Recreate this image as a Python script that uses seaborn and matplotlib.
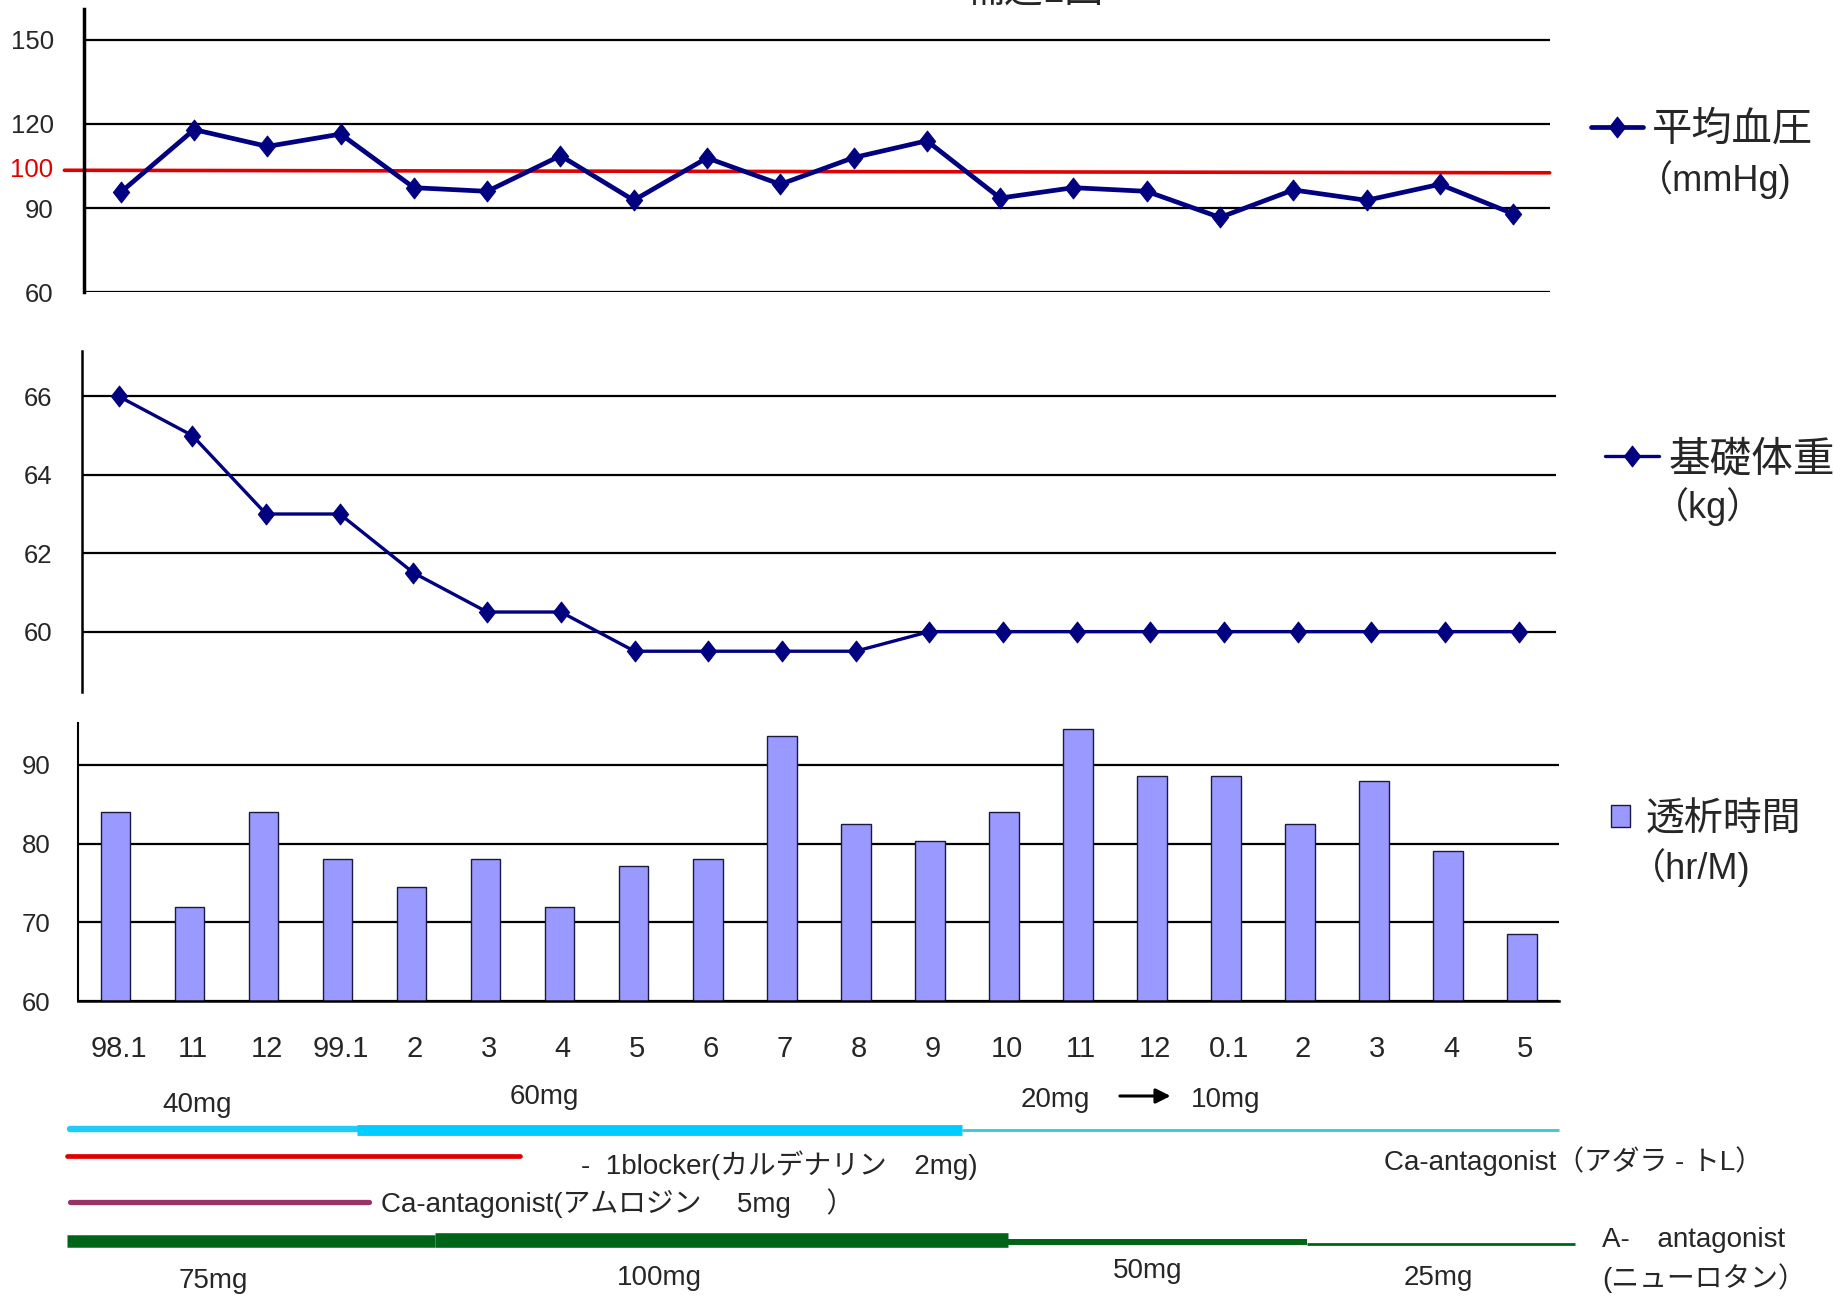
import numpy as np
import pandas as pd
import matplotlib
matplotlib.use("Agg")
import matplotlib.pyplot as plt
from matplotlib.path import Path
from matplotlib.transforms import blended_transform_factory
import seaborn as sns

# --- data ---
months = ["98.1", "11", "12", "99.1", "2", "3", "4", "5", "6", "7",
          "8", "9", "10", "11", "12", "0.1", "2", "3", "4", "5"]
map_mmhg = [95.7, 118, 112, 116.4, 97.3, 96, 108.7, 92.8, 107.9, 98.5,
            108, 114, 93.6, 97.3, 96, 86.7, 96.5, 92.8, 98.5, 88]
dry_weight = [66, 65, 63, 63, 61.5, 60.5, 60.5, 59.5, 59.5, 59.5,
              59.5, 60, 60, 60, 60, 60, 60, 60, 60, 60]
hd_hours = [84, 72, 84, 78, 74.5, 78, 72, 77.2, 78, 93.7,
            82.5, 80.4, 84, 94.6, 88.6, 88.6, 82.5, 88, 79.1, 68.5]
target_line = [103.5, 102.6]   # red reference line (labelled 100)

# medication periods, in month-index units (start, end)
diuretic = [(-0.61, 3.26), (3.26, 11.43), (11.43, 19.5)]
alpha_blocker = [(-0.66, 5.47)]
amlodipine = [(-0.61, 3.43)]
losartan = [(-0.66, 4.32), (4.32, 12.06), (12.06, 16.1), (16.1, 19.72)]

W, H = 1834, 1296
pos = np.arange(len(months))

sns.set_style("white")
plt.rcParams["font.family"] = ["Liberation Sans", "Noto Sans CJK JP"]

fig = plt.figure(figsize=(W / 100, H / 100), dpi=100)


def rect(l, t, r, b):
    return [l / W, 1 - b / H, (r - l) / W, (b - t) / H]


ax1 = fig.add_axes(rect(84.2, 9.4, 1549.7, 292.4))
ax2 = fig.add_axes(rect(81.9, 350.9, 1555.6, 692.4))
ax3 = fig.add_axes(rect(78.4, 722.8, 1559.1, 1001.2))
ax4 = fig.add_axes(rect(78.4, 1005, 1559.1, 1296))

diamond = Path([(0, 1), (0.78, 0), (0, -1), (-0.78, 0), (0, 1)],
               [Path.MOVETO, Path.LINETO, Path.LINETO, Path.LINETO, Path.CLOSEPOLY])
navy = "#000080"

# ---- panel 1: mean blood pressure ----
sns.lineplot(x=pos, y=map_mmhg, ax=ax1, color=navy, lw=3.4, marker=diamond,
             markersize=15, markeredgecolor=navy, label="平均血圧")
ax1.plot([-0.77, 19.5], target_line, color="#E00000", lw=2.6, clip_on=False,
         zorder=1)
ax1.set_ylim(60, 160.8)
ax1.set_yticks([60, 90, 120, 150])
ax1.text(53.5 / W, target_line[0], "100", color="#E00000", fontsize=18.5,
         ha="right", va="center",
         transform=blended_transform_factory(fig.transFigure, ax1.transData))
ax1.spines["left"].set_linewidth(2.5)

# ---- panel 2: dry weight ----
sns.lineplot(x=pos, y=dry_weight, ax=ax2, color=navy, lw=2.4, marker=diamond,
             markersize=15, markeredgecolor=navy, label="基礎体重")
ax2.set_ylim(58.45, 67.16)
ax2.set_yticks([60, 62, 64, 66])
ax2.spines["left"].set_linewidth(1.8)

# ---- panel 3: dialysis hours ----
sns.barplot(x=pos, y=hd_hours, ax=ax3, color="#9999FF", width=0.4,
            edgecolor="#1a1a40", linewidth=1.0, saturation=1, label="透析時間")
ax3.set_ylim(60, 95.35)
ax3.set_yticks([60, 70, 80, 90])
ax3.set_xticks(pos + 0.04, labels=months)
ax3.set_xticks(np.arange(-0.5, len(months)), minor=True)
ax3.tick_params(axis="x", which="major", length=0, pad=24, labelsize=21)
ax3.tick_params(axis="x", which="minor", length=7, width=1.5, direction="out",
                color="black")
ax3.spines["left"].set_linewidth(1.5)
ax3.spines["bottom"].set_linewidth(1.8)
ax3.spines["bottom"].set_color("black")

for ax, pad in ((ax1, 22), (ax2, 21), (ax3, 20)):
    ax.set_xlim(-0.5, len(months) - 0.5)
    ax.grid(axis="y", color="black", lw=1.6)
    ax.grid(axis="x", visible=False)
    ax.set_axisbelow(True)
    ax.set_xlabel("")
    ax.set_ylabel("")
    ax.spines["left"].set_color("black")
    for s in ("top", "right"):
        ax.spines[s].set_visible(False)
    ax.tick_params(axis="y", direction="in", length=4, width=2, pad=pad,
                   labelsize=18.5, color="black")
for ax in (ax1, ax2):
    ax.spines["bottom"].set_visible(False)
    ax.set_xticks([])

# legends on the right
leg_specs = [(ax1, 1591, 130, 1.3, 0.7, 0.22, 29),
             (ax2, 1605, 460, 1.3, 0.7, 0.22, 30),
             (ax3, 1611, 820, 0.5, 0.5, 0.4, 28)]
for ax, lx, ly, hl, hh, tp, fs in leg_specs:
    ax.legend(loc="center left", bbox_to_anchor=(lx / W, 1 - ly / H),
              bbox_transform=fig.transFigure, frameon=False, fontsize=fs,
              borderpad=0, borderaxespad=0, handlelength=hl, handleheight=hh,
              handletextpad=tp)
for txt, tx, ty in (("（mmHg)", 1637, 180), ("（kg）", 1653, 507),
                    ("（hr/M)", 1630, 868)):
    fig.text(tx / W, 1 - ty / H, txt, fontsize=26, ha="left", va="center")

# heading, cut by the top edge as in the original
fig.text(785 / W, 1 + 8 / H, "<", fontsize=28, ha="center", va="center")
fig.text(1035 / W, 1 + 8 / H, "補透1回", fontsize=28, ha="center", va="center")
fig.text(1385 / W, 1 + 8 / H, ">", fontsize=28, ha="center", va="center")

# ---- medication timeline ----
ax4.set_xlim(-0.5, len(months) - 0.5)
ax4.set_ylim(1296, 1005)
ax4.axis("off")


def seg_plot(segs, ys, widths, colors, caps):
    for (x0, x1), y, lw, c, cap in zip(segs, ys, widths, colors, caps):
        ax4.plot([x0, x1], [y, y], color=c, lw=lw, solid_capstyle=cap,
                 clip_on=False)


seg_plot(diuretic, [1129, 1130, 1130], [4.6, 7.8, 2.0],
         ["#1ECCF5", "#00CCFF", "#33CCCC"], ["round", "butt", "butt"])
seg_plot(alpha_blocker, [1156], [3.4], ["#E00000"], ["round"])
seg_plot(amlodipine, [1202], [3.8], ["#993366"], ["round"])
seg_plot(losartan, [1241, 1240, 1242, 1244], [9.0, 10.5, 4.3, 2.0],
         ["#006418"] * 4, ["butt"] * 4)

med_fs = 20
for txt, tx, ty, ha in (("40mg", 1.1, 1105, "center"),
                        ("60mg", 5.79, 1097, "center"),
                        ("20mg", 12.69, 1100, "center"),
                        ("10mg", 15.0, 1100, "center"),
                        ("-  1blocker(カルデナリン　2mg)", 6.29, 1165, "left"),
                        ("Ca-antagonist（アダラ - トL）", 17.13, 1161, "left"),
                        ("Ca-antagonist(アムロジン　 5mg　 ）", 3.59, 1203, "left"),
                        ("A-　antagonist", 20.08, 1240, "left"),
                        ("(ニューロタン）", 20.08, 1278, "left"),
                        ("75mg", 1.32, 1281, "center"),
                        ("100mg", 7.35, 1278, "center"),
                        ("50mg", 13.94, 1271, "center"),
                        ("25mg", 17.87, 1278, "center")):
    ax4.text(tx, ty, txt, fontsize=med_fs, ha=ha, va="center", clip_on=False)
ax4.annotate("", xy=(14.29, 1096), xytext=(13.53, 1096),
             arrowprops=dict(arrowstyle="-|>", lw=2.2, color="black",
                             mutation_scale=22))

fig.savefig("out.png", dpi=100)
